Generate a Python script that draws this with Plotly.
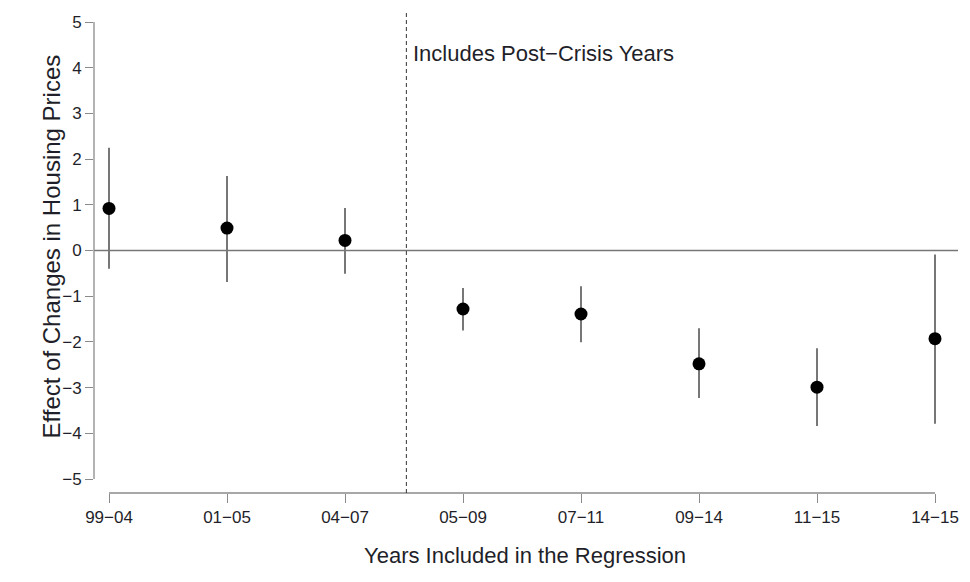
import plotly.graph_objects as go
import numpy as np

# Regression windows and estimated effects with confidence bounds
periods = ["99\u221204", "01\u221205", "04\u221207", "05\u221209", "07\u221211", "09\u221214", "11\u221215", "14\u221215"]
estimate = [0.92, 0.49, 0.22, -1.28, -1.39, -2.48, -2.99, -1.93]
upper = [2.25, 1.63, 0.93, -0.82, -0.78, -1.70, -2.14, -0.09]
lower = [-0.40, -0.69, -0.51, -1.75, -2.01, -3.23, -3.84, -3.79]
y_ticks = [5, 4, 3, 2, 1, 0, -1, -2, -3, -4, -5]
crisis_break = 2.52

est = np.array(estimate)
xpos = np.arange(len(periods))

font_family = "Liberation Sans, Arial, sans-serif"
axis_color = "#8a8a8a"
text_color = "#1f1f2a"

fig = go.Figure()
fig.add_trace(go.Scatter(
    x=xpos, y=est, mode="markers",
    marker=dict(color="black", size=13),
    error_y=dict(type="data", symmetric=False,
                 array=np.array(upper) - est,
                 arrayminus=est - np.array(lower),
                 color="#555555", thickness=1.6, width=0),
    showlegend=False, hoverinfo="skip",
))

shapes = [
    # horizontal reference at zero
    dict(type="line", xref="paper", yref="y", x0=0, x1=1, y0=0, y1=0,
         line=dict(color="#777777", width=1.5)),
    # y axis line spanning the tick range
    dict(type="line", xref="paper", yref="y", x0=0, x1=0, y0=-5, y1=5,
         line=dict(color=axis_color, width=1.3)),
    # x axis line spanning the categories
    dict(type="line", xref="x", yref="paper", x0=0, x1=len(periods) - 1, y0=0, y1=0,
         line=dict(color=axis_color, width=1.3)),
    # separator for post-crisis samples
    dict(type="line", xref="x", yref="paper", x0=crisis_break, x1=crisis_break, y0=0, y1=1,
         line=dict(color="#333333", width=1, dash="4px,3px")),
]

# layout in pixels
L, R, T, B = 94, 12, 10, 89
W, H = 970, 582
pw, ph = W - L - R, H - T - B

annotations = [
    dict(x=crisis_break + 0.04, y=4.3, xref="x", yref="y", xanchor="left", yanchor="middle",
         text="Includes Post\u2212Crisis Years", showarrow=False,
         font=dict(family=font_family, size=22, color=text_color)),
    dict(x=(35 - L) / pw, y=(H - B - 247) / ph, xref="paper", yref="paper",
         text="Effect of Changes in Housing Prices",
         showarrow=False, textangle=-90,
         font=dict(family=font_family, size=24, color=text_color)),
    dict(x=(525 - L) / pw, y=(H - B - 570) / ph, xref="paper", yref="paper",
         text="Years Included in the Regression",
         showarrow=False, font=dict(family=font_family, size=22, color=text_color)),
]

px_per_unit_y = (479 - 22) / 10.0
px_per_cat = (935 - 109) / 7.0

fig.update_layout(
    width=W, height=H,
    margin=dict(l=L, r=R, t=T, b=B, pad=0),
    plot_bgcolor="white", paper_bgcolor="white",
    shapes=shapes, annotations=annotations,
    xaxis=dict(
        range=[-(109 - L) / px_per_cat, 7 + (W - R - 935) / px_per_cat],
        tickmode="array", tickvals=list(xpos), ticktext=periods,
        ticks="outside", ticklen=9, tickwidth=1.3, tickcolor=axis_color,
        showgrid=False, zeroline=False, showline=False,
        tickfont=dict(family=font_family, size=17, color=text_color),
    ),
    yaxis=dict(
        range=[-5 - (493 - 479) / px_per_unit_y, 5 + (22 - T) / px_per_unit_y],
        tickmode="array", tickvals=y_ticks,
        ticktext=[str(v).replace("-", "\u2212") for v in y_ticks],
        ticks="outside", ticklen=8, tickwidth=1.3, tickcolor=axis_color,
        showgrid=False, zeroline=False, showline=False,
        tickfont=dict(family=font_family, size=17, color=text_color),
    ),
)

fig.write_html("out.html")
